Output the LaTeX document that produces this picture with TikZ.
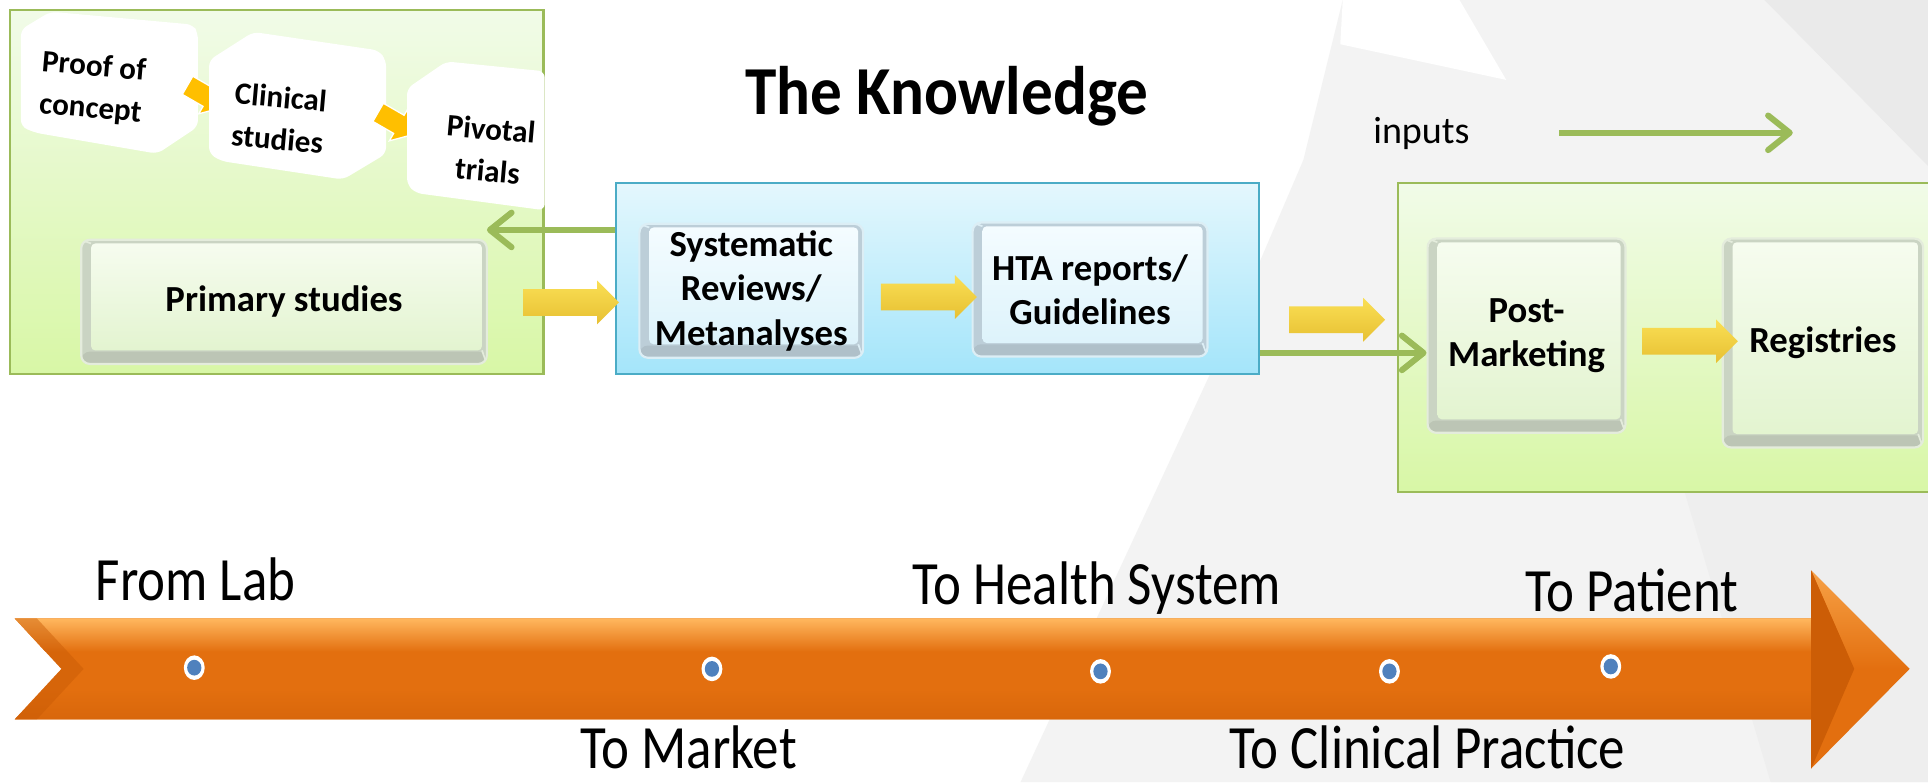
\documentclass[tikz,border=0pt]{standalone}
\usepackage{fontspec}
\setmainfont{Carlito}
\newfontfamily\narrowfont[FakeStretch=0.86]{Carlito}
\newfontfamily\titlefamily[FakeStretch=0.92]{Carlito}
\usetikzlibrary{arrows.meta,shapes.arrows,fit,calc}
\definecolor{gborder}{HTML}{9BBB59}
\definecolor{gtop}{HTML}{F1FBE8}
\definecolor{gbot}{HTML}{D8F7A6}
\definecolor{bborder}{HTML}{4BACC6}
\definecolor{btop}{HTML}{E4F7FD}
\definecolor{bbot}{HTML}{A4E5FA}
\definecolor{gbev}{HTML}{CAD4C3}
\definecolor{gbevl}{HTML}{E4ECDC}
\definecolor{gface1}{HTML}{F6FCEF}
\definecolor{gface2}{HTML}{E3F4D0}
\definecolor{bbev}{HTML}{BCCED8}
\definecolor{bbevl}{HTML}{DCEEF5}
\definecolor{bface1}{HTML}{F4FCFF}
\definecolor{bface2}{HTML}{DDF3FB}
\definecolor{yel1}{HTML}{FADF55}
\definecolor{yel2}{HTML}{E7C032}
\definecolor{orgTop}{HTML}{FFB75E}
\definecolor{orgMid}{HTML}{E36F0F}
\definecolor{orgDark}{HTML}{C85A05}
\definecolor{dotblue}{HTML}{4F81BD}
\definecolor{chevc}{HTML}{FFBF00}
\definecolor{bgA}{HTML}{F3F3F3}
\definecolor{bgB}{HTML}{EAEAEA}
\newcommand\bxfont{\fontsize{17}{20.5}\selectfont\bfseries}
\newcommand\cdfont{\fontsize{14.4}{19.5}\selectfont\bfseries}
\newcommand\tlfont{\narrowfont\fontsize{28.5}{32}\selectfont}
\begin{document}
\begin{tikzpicture}[x=0.02cm,y=-0.02cm,
  gframe/.style={draw=gborder, line width=1.1pt, top color=gtop, bottom color=gbot, inner sep=0pt},
  bframe/.style={draw=bborder, line width=1.1pt, top color=btop, bottom color=bbot, inner sep=0pt},
  bevel/.style n args={4}{rectangle, rounded corners=4pt, fill=#1, draw=#2, line width=1pt, inner sep=0pt, align=center, font=\bxfont,
    path picture={
      \coordinate (bsw) at (path picture bounding box.south west);
      \coordinate (bne) at (path picture bounding box.north east);
      \fill[#1!93!black] (bsw) rectangle ($(bsw -| bne)+(0,0.2cm)$);
      \shade[top color=#3, bottom color=#4, rounded corners=2pt] ($(bsw)+(0.16cm,0.22cm)$) rectangle ($(bne)+(-0.08cm,-0.06cm)$);
      \draw[#2, line width=0.8pt] (bsw |- bne) -- ($(bsw |- bne)+(0.16cm,-0.06cm)$);
      \draw[#2, line width=0.8pt] (bsw -| bne) -- ($(bsw -| bne)+(-0.08cm,0.22cm)$);
    }},
  yarrow/.style={single arrow, single arrow head extend=1.4mm, inner xsep=0pt, inner ysep=2.1mm, minimum height=15.6mm, top color=yel1, bottom color=yel2, draw=none},
  chev/.style={single arrow, single arrow head extend=1.4mm, inner xsep=0pt, inner ysep=1.6mm, minimum height=7mm, fill=chevc, draw=white, line width=0.6pt},
  card/.style={fill=white, rounded corners=3pt},
  cardtext/.style={font=\cdfont, align=center, inner sep=0pt, rotate=-5},
  garrow/.style={draw=gborder, line width=2.8pt, -{Straight Barb[length=10pt,width=16pt,line cap=round,line join=round]}},
  tl/.style={font=\tlfont, anchor=base, inner sep=0pt}
]
\useasboundingbox (0,0) rectangle (1568,636);
% background facets
\fill[white] (0,0) rectangle (1568,636);
\fill[bgA] (1092,0) -- (1568,0) -- (1568,636) -- (830,636) -- (1000,270) -- (1060,130) -- cycle;
\fill[white] (1092,0) -- (1187,0) -- (1225,65) -- (1090,36) -- cycle;
\fill[bgB] (1435,0) -- (1568,0) -- (1568,135) -- cycle;
\fill[bgB!60!bgA] (1370,400) -- (1568,330) -- (1568,636) -- (1440,636) -- cycle;

% left green frame
\node[gframe, fit={(8,8)(442,304)}] (lab) {};
% cards
\fill[card] (17,24) -- (41,9.5) -- (157,20) -- (161,27) -- (161,103) -- (128,125) -- (29,108) -- (17,103) -- cycle;
\node[chev, rotate=-30] (c1) at (164,76) {};
\fill[card] (170,49) -- (206,26) -- (308,41) -- (314,49) -- (314,125) -- (279,146) -- (180,131) -- (170,125) -- cycle;
\node[chev, rotate=-30] (c2) at (319,98) {};
\fill[card] (331,72) -- (363,50) -- (443,58) -- (443,171) -- (338,157) -- (331,150) -- cycle;
\node[cardtext] (t1) at (75,72) {Proof of\\concept};
\node[cardtext] (t2) at (227,96) {Clinical\\studies};
\node[cardtext] (t3) at (398,122) {Pivotal\\trials};
\node[bevel={gbev}{gbevl}{gface1}{gface2}, minimum width=6.6cm, minimum height=2.02cm] (prim) at (231,245.5) {Primary studies};

% blue frame
\node[bframe, fit={(501,149)(1024,304)}] (know) {};
\node[bevel={bbev}{bbevl}{bface1}{bface2}, minimum width=3.64cm, minimum height=2.18cm] (sr) at (611,236.5) {Systematic\\Reviews/\\Metanalyses};
\node[bevel={bbev}{bbevl}{bface1}{bface2}, minimum width=3.82cm, minimum height=2.18cm] (hta) at (886.5,235.5) {HTA reports/\\Guidelines};

% right green frame
\node[gframe, fit={(1137,149)(1580,400)}] (mkt) {};
\node[bevel={gbev}{gbevl}{gface1}{gface2}, minimum width=3.22cm, minimum height=3.16cm] (post) at (1241.5,273) {Post-\\Marketing};
\node[bevel={gbev}{gbevl}{gface1}{gface2}, minimum width=3.26cm, minimum height=3.4cm] (reg) at (1482.5,279) {Registries};

% yellow block arrows
\node[yarrow] (y1) at (459,246) {};
\node[yarrow] (y2) at (750,241.5) {};
\node[yarrow] (y3) at (1082,260) {};
\node[yarrow] (y4) at (1369,277.5) {};

% green arrows
\coordinate (ga) at (396,187);
\draw[garrow] (know.west |- ga) -- (ga);
\coordinate (gb) at (1158,287);
\draw[garrow] (know.east |- gb) -- (post.west |- gb);
\coordinate (ia) at (1268,108);
\coordinate (ib) at (1458,108);
\draw[garrow] (ia) -- (ib);

% title and label
\node[font=\titlefamily\fontsize{31.8}{36}\selectfont\bfseries, anchor=base, inner sep=0pt] (title) at (770,93) {The Knowledge};
\node[font=\fontsize{17.6}{20}\selectfont, anchor=base, inner sep=0pt] (inp) at (1156,117) {inputs};

% timeline arrow
\fill[orgMid] (12,503) -- (1473,503) -- (1473,464) -- (1553,544) -- (1473,625) -- (1473,585) -- (12,585) -- (50,544) -- cycle;
\shade[top color=orgTop, bottom color=orgMid] (12,503) -- (1473,503) -- (1473,530) -- (37,530) -- cycle;
\shade[top color=orgMid, bottom color=orgDark!40!orgMid] (37,560) -- (1473,560) -- (1473,585) -- (12,585) -- cycle;
\fill[orgDark, opacity=0.45] (12,503) -- (30,503) -- (68,544) -- (30,585) -- (12,585) -- (50,544) -- cycle;
\shade[top color=orgTop!70!orgMid, bottom color=orgMid] (1473,464) -- (1553,544) -- (1508,544) -- cycle;
\fill[orgDark!85!orgMid] (1473,464) -- (1508,544) -- (1473,625) -- cycle;

% timeline dots
\coordinate (d1) at (158,543);
\coordinate (d2) at (579,544);
\coordinate (d3) at (895,546);
\coordinate (d4) at (1130,546);
\coordinate (d5) at (1310,542);
\foreach \d in {d1,d2,d3,d4,d5}{
  \fill[white] (\d) ellipse [x radius=8.5, y radius=10];
  \fill[dotblue] (\d) ellipse [x radius=5.8, y radius=6.4];
}

\node[tl] (l1) at (159,488) {From Lab};
\node[tl] (l2) at (560,625) {To Market};
\node[tl] (l3) at (892,492) {To Health System};
\node[tl] (l4) at (1161,625) {To Clinical Practice};
\node[tl] (l5) at (1327,497) {To Patient};
\end{tikzpicture}
\end{document}
